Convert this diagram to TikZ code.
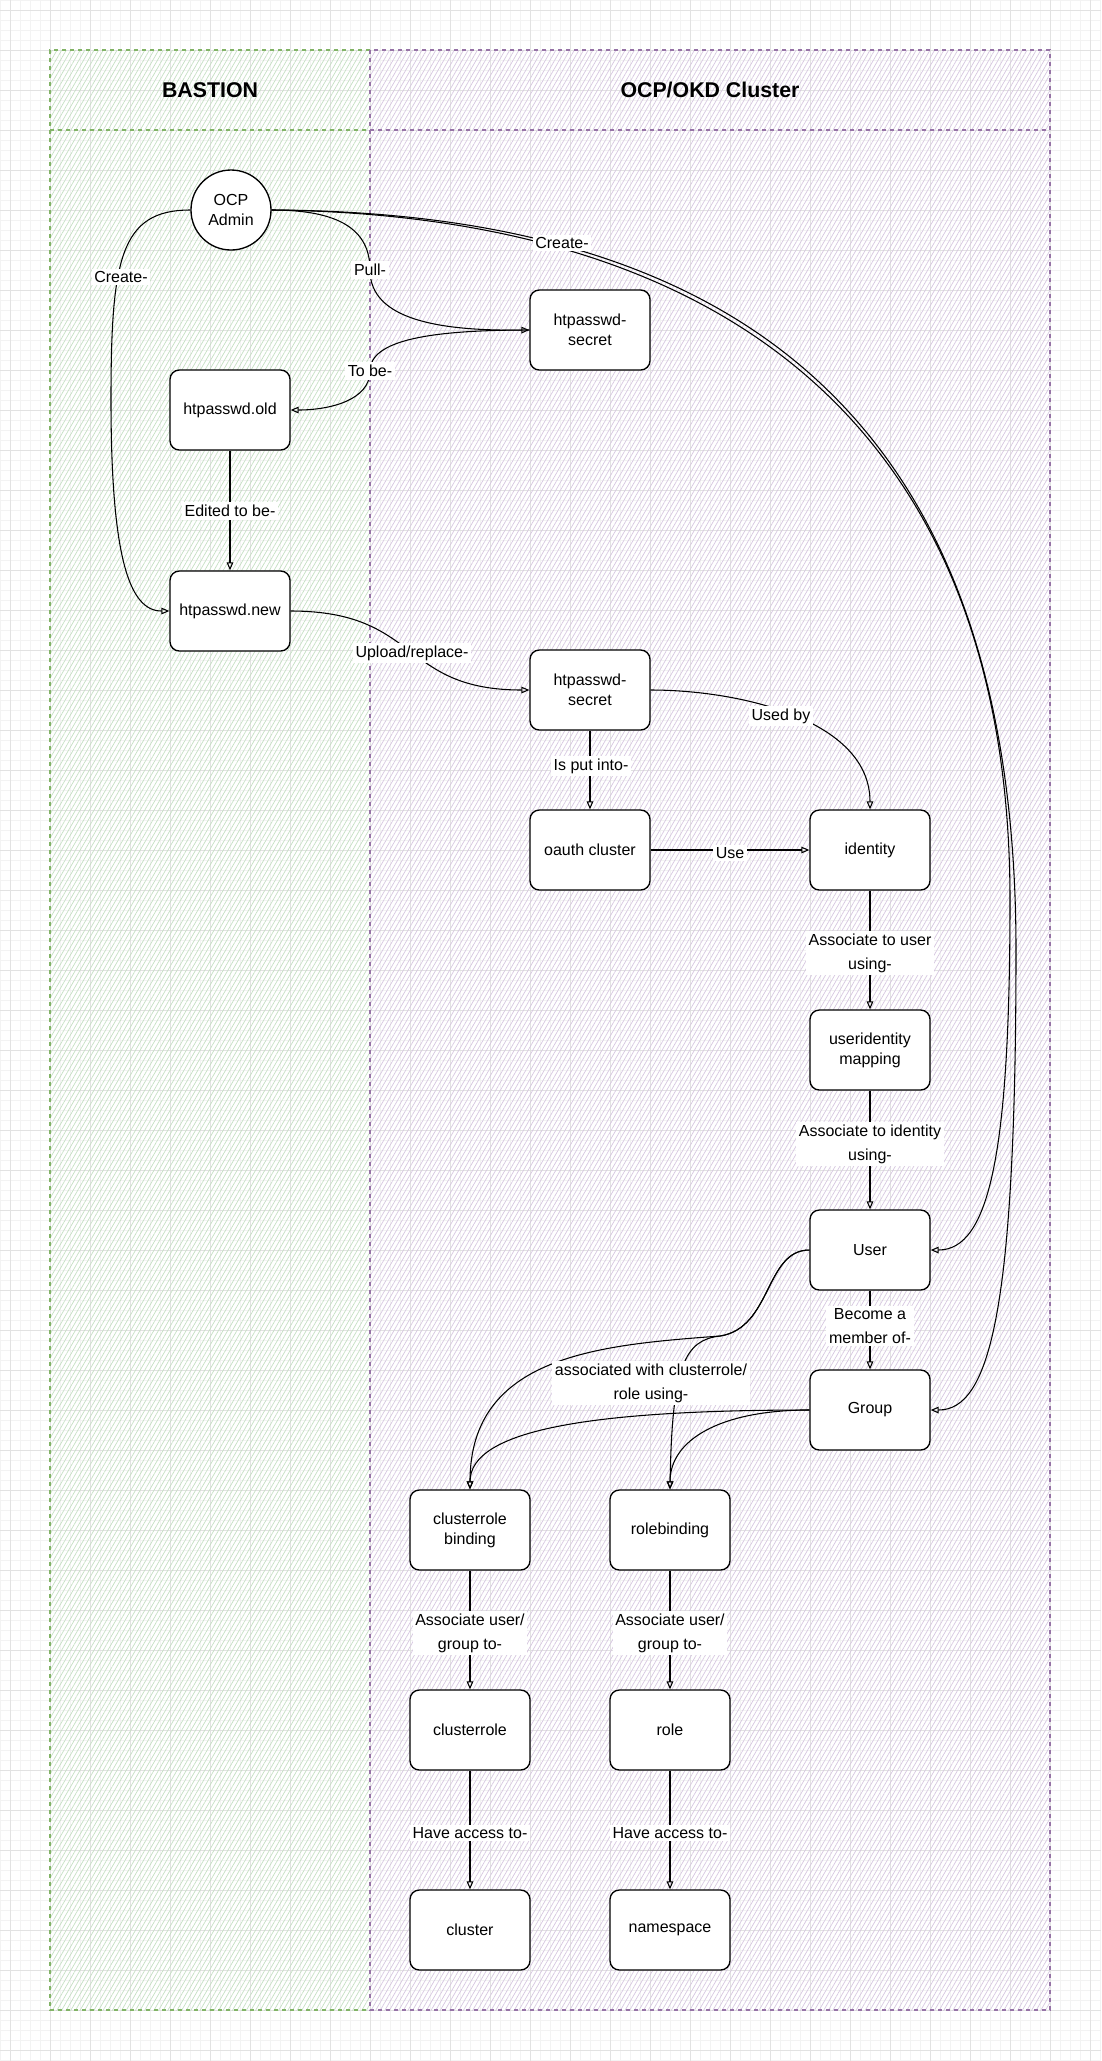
\documentclass[tikz,border=0pt]{standalone}
\usepackage{fontspec}
\setmainfont{Liberation Sans}
\usepackage{tikz}
\usetikzlibrary{arrows.meta, patterns.meta, positioning}
\definecolor{bastionline}{HTML}{82B366}
\definecolor{bastionfill}{HTML}{C4DFC2}
\definecolor{clusterline}{HTML}{9673A6}
\definecolor{clusterfill}{HTML}{D6C6E0}
\definecolor{gridmajor}{HTML}{E2E2E2}
\definecolor{gridminor}{HTML}{F3F3F3}

\tikzset{
  objbox/.style={rectangle, draw=black, fill=white, line width=1pt, rounded corners=7pt,
    minimum width=90pt, minimum height=60pt, align=center, font=\fontsize{12}{15}\selectfont},
  actor/.style={circle, draw=black, fill=white, line width=1pt, minimum size=60pt,
    inner sep=0pt, align=center, font=\fontsize{12}{15}\selectfont},
  conn/.style={-{Triangle[open,length=6pt,width=5pt]}, line width=0.8pt, black},
  edgelbl/.style={fill=white, inner sep=2pt, align=center, font=\fontsize{12}{18}\selectfont},
  lanetitle/.style={font=\fontsize{16}{18}\selectfont\bfseries},
  bastionlane/.style={pattern={Lines[angle=60,distance=3pt,line width=0.5pt]}, pattern color=bastionfill},
  clusterlane/.style={pattern={Lines[angle=60,distance=3pt,line width=0.5pt]}, pattern color=clusterfill},
  bastionedge/.style={draw=bastionline, dashed, line width=1pt},
  clusteredge/.style={draw=clusterline, dashed, line width=1pt},
}

\begin{document}
\begin{tikzpicture}[x=0.75pt, y=-0.75pt]
    % Sfondo e griglia
    \useasboundingbox (0,0) rectangle (1101,2061);
    \fill[white] (0,0) rectangle (1101,2061);
    \draw[gridminor, line width=0.5pt, step=7.5pt] (0,2061) grid (1101,0);
    \begin{scope}[shift={(10,10)}]
        \draw[gridmajor, line width=0.75pt, step=30pt] (-10,2051) grid (1091,-10);
    \end{scope}

    % Corsie
    \path[bastionlane] (50,50) rectangle (370,2010);
    \path[clusterlane] (370,50) rectangle (1050,2010);
    \draw[bastionedge] (370,50) -- (50,50) -- (50,2010) -- (370,2010);
    \draw[bastionedge] (50,130) -- (370,130);
    \draw[clusteredge] (370,50) rectangle (1050,2010);
    \draw[clusteredge] (370,130) -- (1050,130);
    \node[lanetitle] (bastiontitle) at (210,90) {BASTION};
    \node[lanetitle] (clustertitle) at (710,90) {OCP/OKD Cluster};

    % Nodi
    \node[actor] (admin) at (231,210) {OCP\\Admin};
    \node[objbox] (oldsecret) at (590,330) {htpasswd-\\secret};
    \node[objbox] (oldfile) at (230,410) {htpasswd.old};
    \node[objbox] (newfile) at (230,611) {htpasswd.new};
    \node[objbox] (newsecret) at (590,690) {htpasswd-\\secret};
    \node[objbox] (oauth) at (590,850) {oauth cluster};
    \node[objbox] (identity) at (870,850) {identity};
    \node[objbox] (uimap) at (870,1050) {useridentity\\mapping};
    \node[objbox] (user) at (870,1250) {User};
    \node[objbox] (group) at (870,1410) {Group};
    \node[objbox] (crbind) at (470,1530) {clusterrole\\binding};
    \node[objbox] (rbind) at (670,1530) {rolebinding};
    \node[objbox] (crole) at (470,1730) {clusterrole};
    \node[objbox] (role) at (670,1730) {role};
    \node[objbox] (cluster) at (470,1930) {cluster};
    \node[objbox] (namespace) at (670,1930) {namespace};

    % Connessioni
    \draw[conn] (admin.west) .. controls (120,210) and (111,260) .. (111,400) .. controls (111,560) and (130,611) .. (newfile.west);
    \draw[conn] (admin.east) .. controls (340,210) and (370,230) .. (370,270) .. controls (370,320) and (440,331) .. (oldsecret.west);
    \draw[conn] (oldsecret.west) .. controls (430,330) and (370,340) .. (370,371) .. controls (370,400) and (330,410) .. (oldfile.east);
    \draw[conn] (oldfile) -- (newfile);
    \draw[conn] (newfile.east) .. controls +(130,0) and +(-130,0) .. (newsecret.west);
    \draw[conn] (admin.east) .. controls (750,215) and (1010,450) .. (1010,900) .. controls (1010,1150) and (990,1250) .. (user.east);
    \draw[conn] (admin.east) .. controls (760,212) and (1016,440) .. (1016,950) .. controls (1016,1310) and (990,1410) .. (group.east);
    \draw[conn] (newsecret.east) .. controls (740,690) and (870,720) .. (identity.north);
    \draw[conn] (newsecret) -- (oauth);
    \draw[conn] (oauth) -- (identity);
    \draw[conn] (identity) -- (uimap);
    \draw[conn] (uimap) -- (user);
    \draw[conn] (user) -- (group);
    \draw[conn] (user.west) .. controls (765,1250) and (772,1328) .. (720,1336) .. controls (600,1345) and (470,1355) .. (crbind.north);
    \draw[conn] (user.west) .. controls (765,1250) and (772,1328) .. (720,1336) .. controls (685,1340) and (672,1365) .. (rbind.north);
    \draw[conn] (group.west) .. controls (590,1410) and (470,1430) .. (crbind.north);
    \draw[conn] (group.west) .. controls (720,1410) and (670,1440) .. (rbind.north);
    \draw[conn] (crbind) -- (crole);
    \draw[conn] (rbind) -- (role);
    \draw[conn] (crole) -- (cluster);
    \draw[conn] (role) -- (namespace);

    % Etichette
    \node[edgelbl] (lcreatefile) at (121,277) {Create-};
    \node[edgelbl] (lpull) at (370,270) {Pull-};
    \node[edgelbl] (ltobe) at (370,371) {To be-};
    \node[edgelbl] (ledited) at (230,511) {Edited to be-};
    \node[edgelbl] (lupload) at (412,653) {Upload/replace-};
    \node[edgelbl] (lcreateobj) at (562,243) {Create-};
    \node[edgelbl] (lusedby) at (781,716) {Used by};
    \node[edgelbl] (lputinto) at (591,766) {Is put into-};
    \node[edgelbl] (luse) at (730,853) {Use};
    \node[edgelbl] (lassocuser) at (870,953) {Associate to user\\using-};
    \node[edgelbl] (lassocid) at (870,1144) {Associate to identity\\using-};
    \node[edgelbl] (lmember) at (870,1326) {Become a\\member of-};
    \node[edgelbl] (lbinding) at (651,1383) {associated with clusterrole/\\role using-};
    \node[edgelbl] (lcrassoc) at (470,1633) {Associate user/\\group to-};
    \node[edgelbl] (lrassoc) at (670,1633) {Associate user/\\group to-};
    \node[edgelbl] (lcraccess) at (470,1833) {Have access to-};
    \node[edgelbl] (lraccess) at (670,1833) {Have access to-};
\end{tikzpicture}
\end{document}
